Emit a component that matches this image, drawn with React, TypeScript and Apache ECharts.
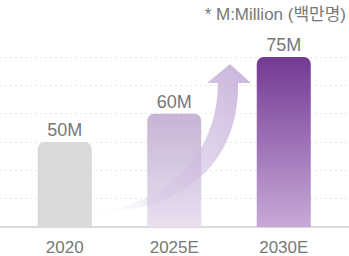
import React, { useEffect, useRef } from "react";
import * as echarts from "echarts";

const categories = ["2020", "2025E", "2030E"];
// bar heights read against the dotted grid (grid steps)
const barLevels = [3, 4, 6];
const valueLabels = ["50M", "60M", "75M"];
const yTicks = { min: 0, max: 6, interval: 1 };
const noteText = "* M:Million (백만명)";

const ARROW_D =
  "M 98 213 C 200 208 239 150 238 83 L 251 83 L 230 64 L 207 83 L 218 83 C 217 150 175 199 98 213 Z";

let registered = false;
function ensureShape() {
  if (registered) return;
  echarts.graphic.registerShape("growthArrow", echarts.graphic.extendPath(ARROW_D, {}) as any);
  registered = true;
}

export default function App() {
  const ref = useRef<HTMLDivElement>(null);
  useEffect(() => {
    if (!ref.current) return;
    document.body.style.margin = "0";
    ensureShape();
    const chart = echarts.init(ref.current, undefined, { renderer: "svg" });
    const font = "'Liberation Sans', Arial, 'Noto Sans CJK KR', sans-serif";
    const barColors = [
      "#d9d9d9",
      new echarts.graphic.LinearGradient(0, 0, 0, 1, [
        { offset: 0, color: "#c7b4d4" },
        { offset: 1, color: "#e8dff0" },
      ]),
      new echarts.graphic.LinearGradient(0, 0, 0, 1, [
        { offset: 0, color: "#733993" },
        { offset: 1, color: "#c7a9d7" },
      ]),
    ];
    chart.setOption({
      animation: false,
      grid: [
        { left: 0, right: 0, top: 57, bottom: 29 },
        { left: 10, right: 10.5, top: 57, bottom: 29 },
      ],
      xAxis: [
        {
          gridIndex: 0,
          type: "value",
          min: 0,
          max: 1,
          axisLine: { show: true, onZero: false, lineStyle: { color: "#d9d9d9", width: 2 } },
          axisTick: { show: false },
          axisLabel: { show: false },
          splitLine: { show: false },
        },
        {
          gridIndex: 1,
          type: "category",
          data: categories,
          axisLine: { show: false },
          axisTick: { show: false },
          axisLabel: { color: "#777777", fontSize: 17, margin: 12, fontFamily: font },
        },
      ],
      yAxis: [
        {
          gridIndex: 0,
          type: "value",
          ...yTicks,
          axisLine: { show: false },
          axisTick: { show: false },
          axisLabel: { show: false },
          splitLine: { show: true, lineStyle: { color: "#e6e6e6", type: [2, 3], width: 1 } },
        },
        {
          gridIndex: 1,
          type: "value",
          ...yTicks,
          show: false,
          splitLine: { show: false },
        },
      ],
      series: [
        {
          type: "bar",
          xAxisIndex: 1,
          yAxisIndex: 1,
          barWidth: 54,
          data: barLevels.map((v, i) => ({
            value: v,
            itemStyle: { color: barColors[i], borderRadius: [7, 7, 0, 0] },
          })),
          label: {
            show: true,
            position: "top",
            distance: 3,
            color: "#777777",
            fontSize: 18,
            fontFamily: font,
            formatter: (p: any) => valueLabels[p.dataIndex],
          },
        },
      ],
      graphic: [
        {
          type: "growthArrow",
          z: 10,
          x: 0,
          y: 0,
          style: {
            fill: new echarts.graphic.LinearGradient(0.85, 0, 0, 1, [
              { offset: 0, color: "rgba(196,172,214,0.85)" },
              { offset: 0.45, color: "rgba(204,184,222,0.6)" },
              { offset: 0.8, color: "rgba(214,198,228,0.3)" },
              { offset: 1, color: "rgba(232,224,240,0)" },
            ]),
          },
        } as any,
        {
          type: "text",
          right: 3,
          top: 6,
          style: {
            text: noteText,
            fill: "#777777",
            fontSize: 17,
            fontFamily: font,
          },
        },
      ],
    });
    return () => chart.dispose();
  }, []);
  return <div ref={ref} style={{ width: 349, height: 256 }} />;
}
